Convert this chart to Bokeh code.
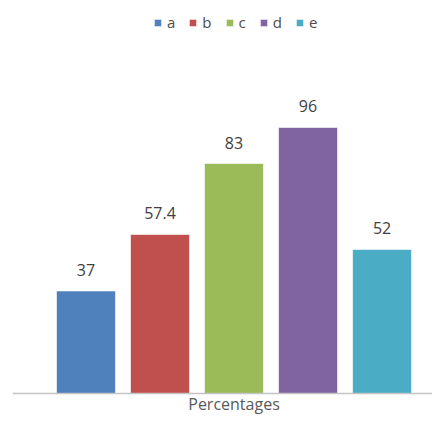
from bokeh.plotting import figure
from bokeh.models import ColumnDataSource, Range1d, LabelSet, Label, Span
from bokeh.embed import file_html
from bokeh.resources import INLINE
from bokeh.core.properties import value

series = ["a", "b", "c", "d", "e"]
values = [37, 57.4, 83, 96, 52]
labels = ["37", "57.4", "83", "96", "52"]
colors = ["#4F81BD", "#C0504D", "#9BBB59", "#8064A2", "#4BACC6"]
category = "Percentages"

src = ColumnDataSource(dict(x=list(range(len(series))), top=values,
                            name=series, color=colors, lab=labels))

p = figure(width=432, height=414, output_backend="svg", toolbar_location=None,
           x_range=Range1d(-0.993, 4.682), y_range=Range1d(-7.578, 141.83),
           min_border_left=12, min_border_right=0, min_border_top=0,
           min_border_bottom=0)
p.vbar(x="x", top="top", bottom=0, width=0.797, source=src, fill_color="color",
       line_color="white", line_alpha=0.6, line_width=1, legend_field="name")

p.add_layout(Span(location=0, dimension="width", line_color="#C4C4C4",
                  line_width=1.5))

p.add_layout(LabelSet(x="x", y="top", text="lab", source=src,
                      text_align="center", text_baseline="middle", y_offset=21,
                      text_font=value("Open Sans"), text_font_size="16px",
                      text_color="#404040"))

p.add_layout(Label(x=2, y=0, text=category, text_align="center",
                   text_baseline="middle", y_offset=-10,
                   text_font="Open Sans", text_font_size="16px",
                   text_color="#595959"))

p.axis.visible = False
p.xgrid.visible = False
p.ygrid.visible = False
p.outline_line_color = None

lg = p.legend[0]
lg.location = (141, 382)
lg.orientation = "horizontal"
lg.border_line_color = None
lg.background_fill_alpha = 0
lg.margin = 0
lg.padding = 2
lg.glyph_width = 9
lg.glyph_height = 9
lg.label_width = 0
lg.label_standoff = 5
lg.spacing = 13
lg.label_text_font = "Open Sans"
lg.label_text_font_size = "15px"
lg.label_text_color = "#4D4D4D"

open("out.html", "w").write(file_html(p, INLINE))
